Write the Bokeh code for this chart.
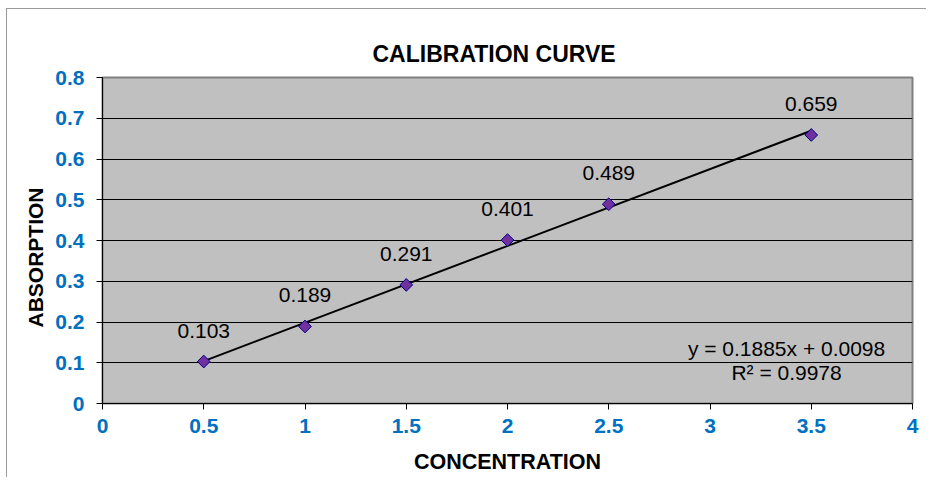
import numpy as np
from bokeh.plotting import figure
from bokeh.models import Range1d, Label, FixedTicker, ColumnDataSource, Title
from bokeh.core.properties import value
from bokeh.embed import file_html
from bokeh.resources import INLINE

# data
concentration = [0.5, 1.0, 1.5, 2.0, 2.5, 3.5]
absorption = [0.103, 0.189, 0.291, 0.401, 0.489, 0.659]
point_labels = ["0.103", "0.189", "0.291", "0.401", "0.489", "0.659"]
x_ticks = [0, 0.5, 1, 1.5, 2, 2.5, 3, 3.5, 4]
y_ticks = [0, 0.1, 0.2, 0.3, 0.4, 0.5, 0.6, 0.7, 0.8]

FONT = "Liberation Sans"
BLUE = "#0070C0"

p = figure(width=920, height=469, output_backend="svg", toolbar_location=None,
           x_range=Range1d(0, 4), y_range=Range1d(0, 0.8),
           min_border_left=95, min_border_right=15, min_border_top=68, min_border_bottom=75,
           background_fill_color="#C0C0C0", border_fill_color="white",
           outline_line_color="#808080", outline_line_width=2)
p.styles = {"margin-left": "6px", "margin-top": "8px",
            "border-left": "1px solid #9a9a9a", "border-top": "1px solid #9a9a9a"}

p.add_layout(Title(text="CALIBRATION CURVE", align="left", offset=270,
                   text_font=FONT, text_font_size="23px", text_font_style="bold",
                   text_color="black", standoff=21), "above")

p.add_layout(Title(text="ABSORPTION", align="left", offset=76,
                   text_font=FONT, text_font_size="21px", text_font_style="bold",
                   text_color="black", standoff=12), "left")

# axes
p.xaxis.ticker = FixedTicker(ticks=x_ticks)
p.yaxis.ticker = FixedTicker(ticks=y_ticks)
for ax in (p.xaxis, p.yaxis):
    ax.axis_line_color = "black"
    ax.axis_line_width = 1
    ax.major_tick_line_color = "black"
    ax.major_tick_out = 6
    ax.major_tick_in = 0
    ax.minor_tick_line_color = None
    ax.major_label_text_font = FONT
    ax.major_label_text_font_size = "21px"
    ax.major_label_text_font_style = "bold"
    ax.major_label_text_color = BLUE
p.xaxis.major_label_standoff = 9
p.yaxis.major_label_standoff = 12
p.xaxis.major_label_overrides = {t: ("%g" % t) for t in x_ticks}
p.yaxis.major_label_overrides = {t: ("%g" % t) for t in y_ticks}

p.xaxis.axis_label = "CONCENTRATION"
p.xaxis.axis_label_text_font = FONT
p.xaxis.axis_label_text_font_size = "21.5px"
p.xaxis.axis_label_text_font_style = "bold"
p.xaxis.axis_label_text_color = "black"
p.xaxis.axis_label_standoff = 14

p.xgrid.grid_line_color = None
p.ygrid.grid_line_color = "black"
p.ygrid.grid_line_width = 1

# trendline (least squares)
slope, intercept = np.polyfit(concentration, absorption, 1)
pred = slope * np.array(concentration) + intercept
ss_res = np.sum((np.array(absorption) - pred) ** 2)
ss_tot = np.sum((np.array(absorption) - np.mean(absorption)) ** 2)
r2 = 1 - ss_res / ss_tot
xl = [min(concentration), max(concentration)]
p.line(xl, [slope * v + intercept for v in xl], line_color="black", line_width=2)

src = ColumnDataSource(dict(x=concentration, y=absorption, lab=point_labels))
p.scatter("x", "y", source=src, marker="square", angle=np.pi / 4, size=9,
          fill_color="#7030A0", line_color="#000080", line_width=1)
p.text("x", "y", text="lab", source=src, y_offset=-31, text_align="center",
       text_baseline="middle", text_font=value(FONT), text_font_size="21px",
       text_color="black")

eq = "y = %.4fx + %.4f" % (slope, intercept)
r2t = "R\u00b2 = %.4f" % r2
p.add_layout(Label(x=3.378, y=0.135, text=eq, text_align="center", text_baseline="middle",
                   text_font=FONT, text_font_size="21px", text_color="black"))
p.add_layout(Label(x=3.378, y=0.076, text=r2t, text_align="center", text_baseline="middle",
                   text_font=FONT, text_font_size="21px", text_color="black"))

open("out.html", "w").write(file_html(p, INLINE))
